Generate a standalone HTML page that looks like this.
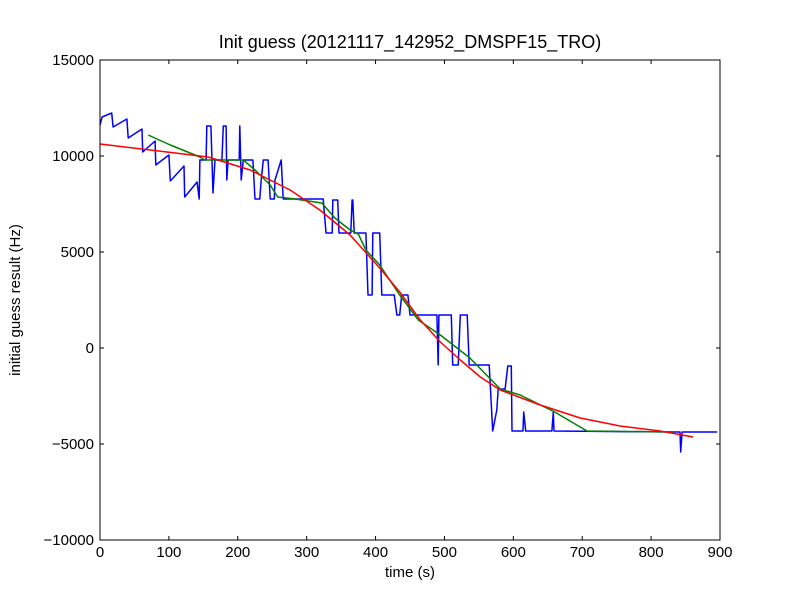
<!DOCTYPE html>
<html><head><meta charset="utf-8"><style>
body{margin:0;background:#fff;}
svg text{font-family:"Liberation Sans","DejaVu Sans",sans-serif;fill:#000;}
</style></head><body>
<svg id="chart" width="800" height="600" xmlns="http://www.w3.org/2000/svg">
<rect width="800" height="600" fill="#fff"/>
<text x="410" y="48" font-size="18" text-anchor="middle">Init guess (20121117_142952_DMSPF15_TRO)</text>
<text x="410" y="577" font-size="15" text-anchor="middle">time (s)</text>
<text x="20" y="300" font-size="15" text-anchor="middle" transform="rotate(-90 20 300)">initial guess result (Hz)</text>
<g id="ticks"></g>
<g id="series"></g>
<rect x="100" y="60" width="620" height="480" fill="none" stroke="#000" stroke-width="1"/>
</svg>
<script>
const xTicks=[0,100,200,300,400,500,600,700,800,900];
const yTicks=[-10000,-5000,0,5000,10000,15000];
const yTickLabels=["\u221210000","\u22125000","0","5000","10000","15000"];
const rawT=[0,3,17,19,39,41,61,62,80,81,100,102,122,123,141,144,145,154,155,161,164,167,177,179,183,184,186,202,203,205,208,222,225,232,234,237,244,247,253,254,263,266,283,324,328,337,338,345,347,364,366,367,369,386,389,395,396,406,409,427,431,435,438,447,450,489,491,492,510,512,520,523,533,536,565,570,576,578,588,592,597,598,614,615,618,656,658,659,832,842,843,845,896];
const rawV=[11615,12031,12240,11510,11927,10937,11406,10208,10781,9531,10052,8698,9479,7865,8646,7760,9792,9792,11562,11562,8073,9792,9792,11562,11562,8750,9792,9792,11562,8750,9792,9792,7760,7760,8750,9792,9792,7760,7760,8750,9792,7760,7760,7760,5990,5990,7708,7708,5990,5990,7708,7708,5990,5990,2760,2760,5990,5990,2760,2760,1719,1719,2760,2760,1719,1719,-885,1719,1719,-885,-885,1719,1719,-885,-885,-4323,-3229,-2135,-2135,-937,-937,-4323,-4323,-3333,-4323,-4323,-3333,-4323,-4375,-4375,-5416,-4375,-4375];
const smoothT=[70,102,145,152,208,225,247,258,283,322,341,363,375,386,406,435,462,494,537,581,610,660,707,832];
const smoothV=[11094,10573,9948,9792,9792,9271,8490,7865,7760,7552,6771,6146,5937,5104,4323,2760,1458,677,-521,-2135,-2448,-3333,-4323,-4375];
const fitT=[0,73,157,218,276,319,363,406,435,465,494,523,552,581,639,697,755,813,861];
const fitV=[10625,10312,9948,9271,8229,7187,5885,4167,2917,1458,312,-625,-1510,-2187,-2969,-3646,-4062,-4323,-4635];

const NS="http://www.w3.org/2000/svg";
const X=t=>100+t/900*620;
const Y=v=>540-(v+10000)/25000*480;
const tg=document.getElementById('ticks');
function mk(tag,attrs,parent){const e=document.createElementNS(NS,tag);for(const k in attrs)e.setAttribute(k,attrs[k]);parent.appendChild(e);return e;}
xTicks.forEach(t=>{
  const x=X(t);
  const a=mk('line',{x1:x,x2:x,y1:540,y2:536,stroke:'#000'},tg);
  
  
  const b=mk('line',{x1:x,x2:x,y1:60,y2:64,stroke:'#000'},tg);
  
  
  const l=mk('text',{x:x,y:557,'font-size':15,'text-anchor':'middle'},tg);
  l.textContent=t;
  
  
});
yTicks.forEach((v,i)=>{
  const y=Y(v);
  const a=mk('line',{x1:100,x2:104,y1:y,y2:y,stroke:'#000'},tg);
  
  
  const b=mk('line',{x1:720,x2:716,y1:y,y2:y,stroke:'#000'},tg);
  
  
  const l=mk('text',{x:94,y:y+5,'font-size':15,'text-anchor':'end'},tg);
  l.textContent=yTickLabels[i];
  
  
});
const sg=document.getElementById('series');
function line(ts,vs,color,name){
  const d=ts.map((t,i)=>(i?'L':'M')+X(t).toFixed(1)+','+Y(vs[i]).toFixed(1)).join('');
  const p=mk('path',{d:d,fill:'none',stroke:color,'stroke-width':1.5,'stroke-linejoin':'round'},sg);
  
  
}
line(rawT,rawV,'#0000ff','raw-guess-line');
line(smoothT,smoothV,'#008000','smoothed-line');
line(fitT,fitV,'#ff0000','fit-curve-line');
</script>
</body></html>
